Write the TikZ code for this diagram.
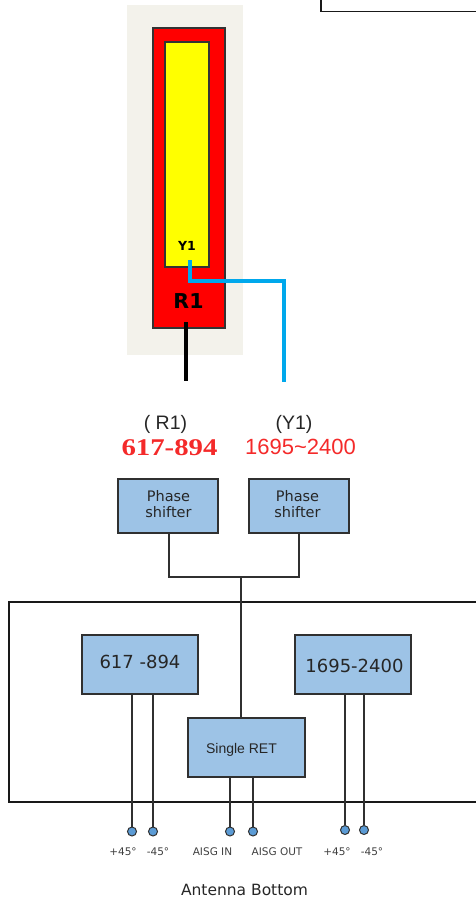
\documentclass[tikz,border=0pt]{standalone}
\usepackage{fontspec}
\setmainfont{DejaVu Sans}
\newfontfamily\arialf{Liberation Sans}
\newfontfamily\timesf{Liberation Serif}
\definecolor{bluebox}{HTML}{9DC3E6}
\definecolor{beige}{HTML}{F3F2EB}
\definecolor{cable}{HTML}{00A8EC}
\definecolor{port}{HTML}{5B9BD5}
\definecolor{wire}{HTML}{303030}
\definecolor{pureyellow}{HTML}{FFFF00}
\definecolor{purered}{HTML}{FF0000}
\definecolor{labelred}{HTML}{F42A2A}
\tikzset{
  x=1pt,y=-1pt,
  block/.style={draw=wire,line width=1.2pt,fill=bluebox,inner sep=0pt},
  blocktext/.style={inner sep=0pt,align=center,text=black!85},
  panel/.style={draw=black!90,inner sep=0pt},
  wireline/.style={draw=wire,line width=1.3pt},
  portdot/.style={circle,draw=wire,line width=1pt,fill=port,minimum size=9pt,inner sep=0pt},
  portlabel/.style={font=\fontsize{10.5}{12}\selectfont,text=black!75,inner sep=0pt},
  headlabel/.style={font=\arialf\fontsize{19.5}{22}\selectfont,text=black!85,inner sep=0pt},
}
\begin{document}
\begin{tikzpicture}
\useasboundingbox (0,0) rectangle (476,898);
\clip (0,0) rectangle (476,898);
\node[panel,line width=1.6pt,minimum width=200pt,minimum height=40pt] (topbox) at (421,-8.5) {};
% antenna
\node[fill=beige,minimum width=116pt,minimum height=350pt,inner sep=0pt] (back) at (185,180) {};
\node[draw=black!80,line width=1.1pt,fill=purered,minimum width=72pt,minimum height=300pt,inner sep=0pt] (red) at (189,178) {};
\node[draw=black!80,line width=1.1pt,fill=pureyellow,minimum width=44pt,minimum height=225pt,inner sep=0pt] (yellow) at (187,154.5) {};
\node[inner sep=0pt,font=\bfseries\fontsize{12.5}{14}\selectfont] (y1) at (187,246) {Y1};
\node[inner sep=0pt,font=\bfseries\fontsize{20.5}{22}\selectfont] (r1) at (188.5,301) {R1};
\coordinate (bs) at (190,260);
\coordinate (bc) at (284,281);
\coordinate (be) at (284,382);
\coordinate (ks) at (186,322);
\coordinate (ke) at (186,381);
\draw[cable,line width=3.4pt] (bs) |- (bc) -- (be);
\draw[black,line width=3.4pt] (ks) -- (ke);
% labels
\node[headlabel] (lr) at (165.5,424) {( R1)};
\node[headlabel] (ly) at (294,424) {(Y1)};
\node[inner sep=0pt,text=labelred,font=\timesf\bfseries\fontsize{24}{26}\selectfont] (fr) at (169.5,448) {\scalebox{1.2}[1]{617-894}};
\node[inner sep=0pt,text=labelred,font=\arialf\fontsize{22}{24}\selectfont] (fy) at (300.5,446.5) {1695\textasciitilde 2400};
% outer box
\node[panel,line width=1.3pt,minimum width=480pt,minimum height=200pt] (outer) at (249,702) {};
% blocks
\node[block,minimum width=100pt,minimum height=54pt] (ps1) at (168,506) {};
\node[blocktext,font=\fontsize{14.5}{16}\selectfont] (ps1t) at (168.5,504) {Phase\\shifter};
\node[block,minimum width=100pt,minimum height=54pt] (ps2) at (299,506) {};
\node[blocktext,font=\fontsize{14.5}{16}\selectfont] (ps2t) at (297.5,504) {Phase\\shifter};
\node[block,minimum width=116pt,minimum height=59pt] (lo) at (140,664.5) {};
\node[blocktext,font=\fontsize{18}{20}\selectfont] (lot) at (140,662) {617 -894};
\node[block,minimum width=116pt,minimum height=59pt] (hi) at (353,664.5) {};
\node[blocktext,font=\fontsize{18}{20}\selectfont] (hit) at (354.5,666) {1695-2400};
\node[block,minimum width=117pt,minimum height=59pt] (ret) at (246.5,747.5) {};
\node[blocktext,font=\arialf\fontsize{14}{16}\selectfont] (rett) at (241.5,750) {Single RET};
% ports
\node[portdot] (p1) at (132,831.5) {};
\node[portdot] (p2) at (153,831.5) {};
\node[portdot] (p3) at (230,831.5) {};
\node[portdot] (p4) at (253,831.5) {};
\node[portdot] (p5) at (345,830) {};
\node[portdot] (p6) at (364,830) {};
% wires
\coordinate (c1) at (169,577);
\coordinate (c2) at (299,577);
\coordinate (j) at (241,577);
\draw[wireline] (c1 |- ps1.south) -- (c1) -- (c2) -- (c2 |- ps2.south);
\draw[wireline] (j) -- (j |- ret.north);
\foreach \p/\b in {p1/lo,p2/lo,p3/ret,p4/ret,p5/hi,p6/hi}
  \draw[wireline] (\p |- \b.south) -- (\p);
% port labels
\node[portlabel] (t1) at (123,852) {+45°};
\node[portlabel] (t2) at (158,852) {-45°};
\node[portlabel] (t3) at (212.5,852) {AISG IN};
\node[portlabel] (t4) at (277,852) {AISG OUT};
\node[portlabel] (t5) at (337,852) {+45°};
\node[portlabel] (t6) at (372,852) {-45°};
\node[inner sep=0pt,font=\fontsize{15.5}{18}\selectfont,text=black!85] (ab) at (244.5,890) {Antenna Bottom};
\end{tikzpicture}
\end{document}
